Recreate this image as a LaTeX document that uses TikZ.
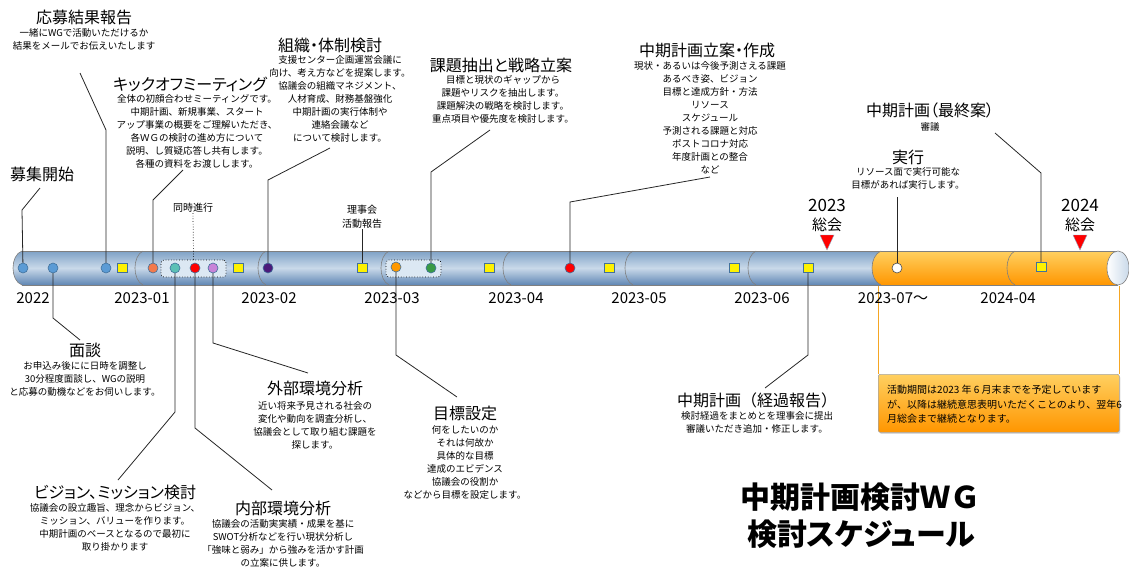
\documentclass[tikz,border=0pt]{standalone}
\usepackage{fontspec}
\setmainfont{Noto Sans CJK JP}
\newfontfamily\ttlfont{Noto Sans CJK JP}[RawFeature={+palt}]
\usetikzlibrary{shadows}
\definecolor{barTop}{HTML}{7EA1C6}
\definecolor{barMid}{HTML}{C9D9E9}
\definecolor{barBot}{HTML}{5F86B4}
\definecolor{orTop}{HTML}{FFD060}
\definecolor{orMid}{HTML}{FFB330}
\definecolor{orBot}{HTML}{FF9600}
\definecolor{edgeGray}{HTML}{7F7F7F}
\definecolor{mkBorder}{HTML}{41719C}
\definecolor{cBlue}{HTML}{5B9BD5}
\definecolor{cCoral}{HTML}{F37A4C}
\definecolor{cTeal}{HTML}{5CC0B5}
\definecolor{cOrchid}{HTML}{C884D8}
\definecolor{cPurple}{HTML}{4B1A7A}
\definecolor{cOrange}{HTML}{FF9900}
\definecolor{cGreen}{HTML}{3A9A45}
\definecolor{grpFill}{HTML}{DCE8F3}
\definecolor{brk}{HTML}{F5A623}
\begin{document}
\begin{tikzpicture}[x=1pt,y=-1pt,
  ttl/.style={font=\ttlfont\fontsize{16}{18}\selectfont, inner sep=0pt},
  ttlw/.style={font=\fontsize{16}{18}\selectfont, inner sep=0pt},
  bdy/.style={font=\fontsize{9.5}{13}\selectfont, align=center, inner sep=0pt, anchor=north},
  conn/.style={draw=black!85, line width=0.8pt},
  mk/.style={circle, minimum size=10pt, inner sep=0pt, draw=mkBorder, line width=0.6pt, fill=#1},
  sq/.style={rectangle, minimum width=10pt, minimum height=9pt, inner sep=0pt, fill=yellow, draw=mkBorder, line width=0.7pt},
  yr/.style={font=\fontsize{15}{17}\selectfont, inner sep=0pt},
  seg/.style={draw=edgeGray, line width=0.6pt},
  grp/.style={draw=black, dotted, line width=0.7pt, rounded corners=3pt, fill=grpFill},
  small/.style={font=\fontsize{10}{14}\selectfont, align=center, inner sep=0pt},
  bigt/.style={font=\fontsize{30}{33}\selectfont\bfseries, inner sep=0pt},
  bigtp/.style={font=\ttlfont\fontsize{30}{33}\selectfont\bfseries, inner sep=0pt}
]
\useasboundingbox (0,0) rectangle (1129,568);

% ---------- bar ----------
\shade[top color=barTop, bottom color=barBot, middle color=barMid]
  (22,251) -- (882,251) -- (882,285) -- (22,285) .. controls (10,281) and (10,255) .. (22,251) -- cycle;
\draw[seg] (22,251) -- (882,251);
\draw[seg] (22,285) -- (882,285);
\draw[seg] (22,285) .. controls (10,281) and (10,255) .. (22,251);
\foreach \x in {135,258,381,503,625,748} {
  \draw[seg] (\x+8,251) .. controls (\x-2.7,256) and (\x-2.7,280) .. (\x+8,285);
}
% orange part
\shade[top color=orTop, bottom color=orBot, middle color=orMid]
  (881,251) -- (1118,251) -- (1118,285) -- (881,285) .. controls (869,280) and (869,256) .. (881,251) -- cycle;
\draw[seg] (881,251) -- (1118,251);
\draw[seg] (881,285) -- (1118,285);
\draw[seg] (881,285) .. controls (869,280) and (869,256) .. (881,251);
\draw[seg] (1015,251) .. controls (1004.3,256) and (1004.3,280) .. (1015,285);
\shade[left color=white, right color=barMid, draw=edgeGray, line width=0.6pt] (1118,268) ellipse [x radius=11, y radius=17];

% ---------- bracket + box ----------
\draw[brk, line width=0.8pt] (878,286) -- (878,374);
\draw[brk, line width=0.8pt] (1119,286) -- (1119,374);
\node[draw=edgeGray!70, line width=0.6pt, rounded corners=2pt, top color=orTop, bottom color=orBot, middle color=orMid,
  minimum width=241pt, minimum height=58pt, inner sep=0pt, anchor=north west, drop shadow={opacity=0.3, shadow xshift=1pt, shadow yshift=-1.5pt}] (obox) at (878,374) {};
\node[font=\fontsize{10}{14.5}\selectfont, align=left, inner sep=0pt, anchor=north west] (otext) at (887,385)
  {活動期間は2023 年 6 月末までを予定しています\\が、以降は継続意思表明いただくことのより、翌年6\\月総会まで継続となります。};

% ---------- groups ----------
\node[grp, minimum width=65pt, minimum height=17pt, inner sep=0pt] (g1) at (193.5,268.5) {};
\node[grp, minimum width=55pt, minimum height=17pt, inner sep=0pt] (g2) at (413.5,268.5) {};

% ---------- year labels ----------
\node[yr] (y1) at (33,298) {2022};
\node[yr] (y2) at (142,298) {2023-01};
\node[yr] (y3) at (269,298) {2023-02};
\node[yr] (y4) at (392,298) {2023-03};
\node[yr] (y5) at (516,298) {2023-04};
\node[yr] (y6) at (639,298) {2023-05};
\node[yr] (y7) at (762,298) {2023-06};
\node[yr] (y8) at (893,298) {2023-07～};
\node[yr] (y9) at (1008,298) {2024-04};

% ---------- general meetings ----------
\node[font=\fontsize{17}{19}\selectfont, inner sep=0pt] (ga1y) at (827,205) {2023};
\node[font=\fontsize{15}{17}\selectfont, inner sep=0pt] (ga1t) at (827,225) {総会};
\node[font=\fontsize{17}{19}\selectfont, inner sep=0pt] (ga2y) at (1080,205) {2024};
\node[font=\fontsize{15}{17}\selectfont, inner sep=0pt] (ga2t) at (1080,225) {総会};
\fill[red, draw=mkBorder!60, line width=0.4pt] (820,235) -- (834,235) -- (827,250) -- cycle;
\fill[red, draw=mkBorder!60, line width=0.4pt] (1073,235) -- (1087,235) -- (1080,250) -- cycle;

% ---------- small labels ----------
\node[small] (simul) at (193,208) {同時進行};
\node[small] (riji) at (362,217) {理事会\\活動報告};

% ---------- callout texts ----------
\node[ttl] (t1) at (42,174) {募集開始};
\node[ttl] (t2) at (84,17) {応募結果報告};
\node[bdy] (b2) at (84,28) {一緒にWGで活動いただけるか\\結果をメールでお伝えいたします};
\node[ttl] (t3) at (190,84) {キックオフミーティング};
\node[bdy] (b3) at (197,94) {全体の初顔合わせミーティングです。\\中期計画、新規事業、スタート\\アップ事業の概要をご理解いただき、\\各ＷＧの検討の進め方について\\説明、し質疑応答し共有します。\\各種の資料をお渡しします。};
\node[ttl] (t4) at (330,45) {組織・体制検討};
\node[bdy] (b4) at (340,55) {支援センター企画運営会議に\\向け、考え方などを提案します。\\協議会の組織マネジメント、\\人材育成、財務基盤強化\\中期計画の実行体制や\\連絡会議など\\について検討します。};
\node[ttl] (t5) at (501,65) {課題抽出と戦略立案};
\node[bdy] (b5) at (503,75) {目標と現状のギャップから\\課題やリスクを抽出します。\\課題解決の戦略を検討します。\\重点項目や優先度を検討します。};
\node[ttl] (t6) at (707,50) {中期計画立案・作成};
\node[bdy] (b6) at (710,61) {現状・あるいは今後予測さえる課題\\あるべき姿、ビジョン\\目標と達成方針・方法\\リソース\\スケジュール\\予測される課題と対応\\ポストコロナ対応\\年度計画との整合\\など};
\node[ttl] (t7) at (930,110) {中期計画（最終案）};
\node[bdy] (b7) at (930,122) {審議};
\node[ttl] (t8) at (908,157) {実行};
\node[bdy] (b8) at (908,167) {リソース面で実行可能な\\目標があれば実行します。};
\node[ttl] (t9) at (85,350) {面談};
\node[bdy] (b9) at (85,361) {お申込み後にに日時を調整し\\30分程度面談し、WGの説明\\と応募の動機などをお伺いします。};
\node[ttl] (t10) at (315,388) {外部環境分析};
\node[bdy] (b10) at (315,401) {近い将来予見される社会の\\変化や動向を調査分析し、\\協議会として取り組む課題を\\探します。};
\node[ttl] (t11) at (465,413) {目標設定};
\node[bdy] (b11) at (465,425) {何をしたいのか\\それは何故か\\具体的な目標\\達成のエビデンス\\協議会の役割か\\などから目標を設定します。};
\node[ttl] (t12) at (115,492) {ビジョン、ミッション検討};
\node[bdy] (b12) at (115,503) {協議会の設立趣旨、理念からビジョン、\\ミッション、バリューを作ります。\\中期計画のベースとなるので最初に\\取り掛かります};
\node[ttl] (t13) at (283,508) {内部環境分析};
\node[bdy] (b13) at (283,519) {協議会の活動実実績・成果を基に\\SWOT分析などを行い現状分析し\\「強味と弱み」から強みを活かす計画\\の立案に供します。};
\node[ttlw] (t14) at (757,400) {中期計画（経過報告）};
\node[bdy] (b14) at (757,411) {検討経過をまとめとを理事会に提出\\審議いただき追加・修正します。};

\node[bigt] (big1) at (860,497) {中期計画検討ＷＧ};
\node[bigtp] (big2) at (861,534) {検討スケジュール};

% ---------- markers (coordinates) ----------
\coordinate (p1) at (23,268);   \coordinate (p2) at (53,268);   \coordinate (p3) at (106,268);
\coordinate (p4) at (153,268);  \coordinate (p5) at (175,268);  \coordinate (p6) at (195,268);
\coordinate (p7) at (213,268);  \coordinate (p8) at (268,268);  \coordinate (p9) at (396,267);
\coordinate (p10) at (431,268); \coordinate (p11) at (570,268); \coordinate (p12) at (897,268);
\coordinate (q7) at (808,268);  \coordinate (q8) at (1041,267); \coordinate (q3) at (362,268);

% ---------- connectors ----------
\coordinate (k1) at (22,210);   \coordinate (e1) at (40,188);
\coordinate (k2) at (106,130);  \coordinate (e2) at (80,73);
\coordinate (k3) at (153,200);  \coordinate (e3) at (183,170);
\coordinate (k4) at (268,180);  \coordinate (e4) at (330,148);
\coordinate (k5) at (431,172);  \coordinate (e5) at (490,130);
\coordinate (k6) at (570,202);  \coordinate (e6) at (710,177);
\coordinate (e7) at (897,197);
\coordinate (k8) at (1041,173); \coordinate (e8) at (995,133);
\coordinate (k9) at (53,318);   \coordinate (e9) at (80,340);
\coordinate (k10) at (175,412); \coordinate (e10) at (118,480);
\coordinate (k11) at (195,428); \coordinate (e11) at (272,490);
\coordinate (k12) at (213,343); \coordinate (e12) at (308,373);
\coordinate (k13) at (396,355); \coordinate (e13) at (457,397);
\coordinate (k14) at (808,355); \coordinate (e14) at (765,388);

\draw[conn] (p1) -- (k1) -- (e1);
\draw[conn] (p3) -- (k2) -- (e2);
\draw[conn] (p4) -- (k3) -- (e3);
\draw[conn] (p8) -- (k4) -- (e4);
\draw[conn] (p10) -- (k5) -- (e5);
\draw[conn] (p11) -- (k6) -- (e6);
\draw[conn] (p12) -- (e7);
\draw[conn] (q8) -- (k8) -- (e8);
\draw[conn] (p2) -- (k9) -- (e9);
\draw[conn] (p5) -- (k10) -- (e10);
\draw[conn] (p6) -- (k11) -- (e11);
\draw[conn] (p7) -- (k12) -- (e12);
\draw[conn] (p9) -- (k13) -- (e13);
\draw[conn] (q7) -- (k14) -- (e14);
\draw[conn] (q3) -- (riji.south);
\draw[black, dotted, line width=0.7pt] (g1.north) -- (simul.south);

% ---------- markers ----------
\node[mk=cBlue] (m1) at (p1) {};
\node[mk=cBlue] (m2) at (p2) {};
\node[mk=cBlue] (m3) at (p3) {};
\node[sq] (s1) at (122,268) {};
\node[mk=cCoral] (m4) at (p4) {};
\node[mk=cTeal] (m5) at (p5) {};
\node[mk=red] (m6) at (p6) {};
\node[mk=cOrchid] (m7) at (p7) {};
\node[sq] (s2) at (238,268) {};
\node[mk=cPurple] (m8) at (p8) {};
\node[sq] (s3) at (q3) {};
\node[mk=cOrange] (m9) at (p9) {};
\node[mk=cGreen] (m10) at (p10) {};
\node[sq] (s4) at (489,268) {};
\node[mk=red] (m11) at (p11) {};
\node[sq] (s5) at (609,268) {};
\node[sq] (s6) at (734,268) {};
\node[sq] (s7) at (q7) {};
\node[mk=white, draw=black!70] (m12) at (p12) {};
\node[sq] (s8) at (q8) {};
\end{tikzpicture}
\end{document}
